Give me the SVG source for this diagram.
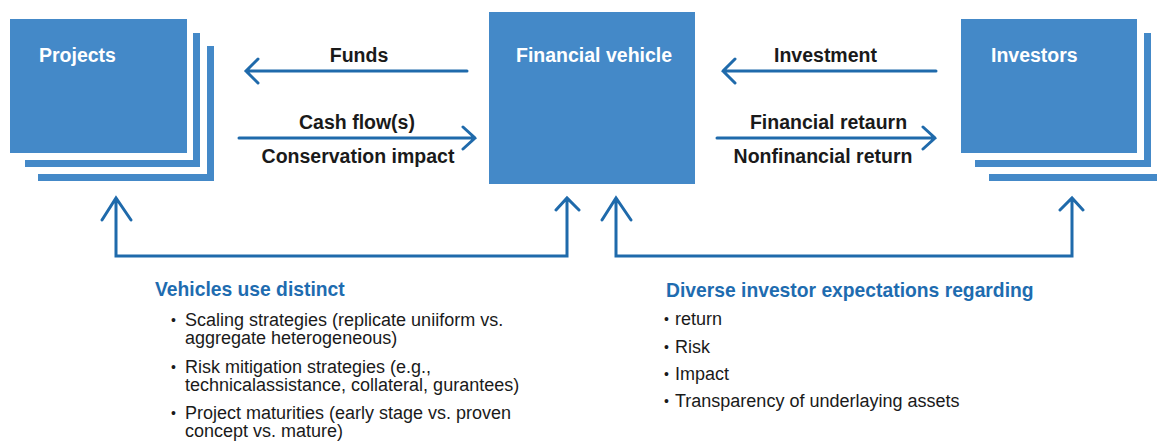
<svg xmlns="http://www.w3.org/2000/svg" width="1157" height="441" viewBox="0 0 1157 441">
<style>
.box{fill:#4489c8}
.title{font-family:"Liberation Sans",Arial,sans-serif;font-weight:bold;font-size:19.5px;fill:#ffffff}
.lbl{font-family:"Liberation Sans",Arial,sans-serif;font-weight:bold;font-size:19.5px;fill:#1a1a1a;text-anchor:middle}
.head{font-family:"Liberation Sans",Arial,sans-serif;font-weight:bold;font-size:19.3px;fill:#1e6cb0}
.body{font-family:"Liberation Sans",Arial,sans-serif;font-size:18px;fill:#1a1a1a}
.bul{font-family:"Liberation Sans",Arial,sans-serif;font-size:14px;fill:#1a1a1a}
.con{fill:none;stroke:#1f6aab;stroke-width:3;stroke-linejoin:miter;stroke-linecap:round}
</style>
<rect width="1157" height="441" fill="#ffffff"/>
<g id="projects">
  <path class="box" d="M207,46H214V181H38V174H207Z"/>
  <path class="box" d="M193,33H200V167H25V160H193Z"/>
  <rect class="box" x="10" y="19" width="177" height="134"/>
  <text class="title" x="39" y="62">Projects</text>
</g>
<g id="financial-vehicle">
  <rect class="box" x="489" y="12" width="206" height="172"/>
  <text class="title" x="516" y="62">Financial vehicle</text>
</g>
<g id="investors">
  <path class="box" d="M1165,46H1172V181H989V174H1165Z"/>
  <path class="box" d="M1144,33H1151V167H975V160H1144Z"/>
  <rect class="box" x="961" y="19" width="176" height="134"/>
  <text class="title" x="991" y="62">Investors</text>
</g>
<g id="connectors">
  <path class="con" d="M467,71H246M258,59L246,71L258,83"/>
  <path class="con" d="M239,138H475M463,127L475,138L463,149"/>
  <path class="con" d="M936,71H723M735,59L723,71L735,83"/>
  <path class="con" d="M717,138H935M923,127L935,138L923,149"/>
  <path class="con" d="M116,198V256H567V198M102,220L116,198L131,220M556,210L567,198L579,210"/>
  <path class="con" d="M616,198V256H1072V198M602,220L616,198L631,220M1060,210L1072,198L1083,210"/>
</g>
<g id="labels">
  <text class="lbl" x="359" y="62">Funds</text>
  <text class="lbl" x="357" y="129">Cash flow(s)</text>
  <text class="lbl" x="358" y="162.5">Conservation impact</text>
  <text class="lbl" x="825.5" y="62">Investment</text>
  <text class="lbl" x="828.5" y="129">Financial retaurn</text>
  <text class="lbl" x="823" y="163">Nonfinancial return</text>
</g>
<g id="left-notes">
  <text class="head" x="155" y="296">Vehicles use distinct</text>
  <text class="bul" x="171" y="325">•</text>
  <text class="body" x="185" y="326">Scaling strategies (replicate uniiform vs.</text>
  <text class="body" x="185" y="344">aggregate heterogeneous)</text>
  <text class="bul" x="171" y="371.5">•</text>
  <text class="body" x="185" y="372.5">Risk mitigation strategies (e.g.,</text>
  <text class="body" x="185" y="390.5">technicalassistance, collateral, gurantees)</text>
  <text class="bul" x="171" y="417.5">•</text>
  <text class="body" x="185" y="418.5">Project maturities (early stage vs. proven</text>
  <text class="body" x="185" y="436.5">concept vs. mature)</text>
</g>
<g id="right-notes">
  <text class="head" x="666" y="297">Diverse investor expectations regarding</text>
  <text class="bul" x="664" y="324">•</text>
  <text class="body" x="675" y="325">return</text>
  <text class="bul" x="664" y="351.5">•</text>
  <text class="body" x="675" y="352.5">Risk</text>
  <text class="bul" x="664" y="379">•</text>
  <text class="body" x="675" y="380">Impact</text>
  <text class="bul" x="664" y="406">•</text>
  <text class="body" x="675" y="407">Transparency of underlaying assets</text>
</g>
</svg>
